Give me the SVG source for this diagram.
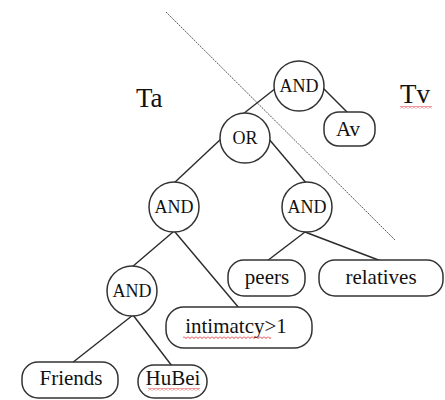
<svg xmlns="http://www.w3.org/2000/svg" width="445" height="400" viewBox="0 0 445 400">
<defs>
<style>
.edge{stroke:#2a2a2a;stroke-width:1.4;fill:none}
.sep{stroke:#555;stroke-width:1;stroke-dasharray:2 1;fill:none}
.op{fill:#fff;stroke:#333;stroke-width:1.5}
.leaf{fill:#fff;stroke:#333;stroke-width:1.5}
text{font-family:"Liberation Serif","Times New Roman",serif;fill:#111;text-anchor:middle}
.opt{font-size:18px}
.lt{font-size:21px}
.big{font-size:27px;text-anchor:start}
</style>
<pattern id="wave" width="4" height="3" patternUnits="userSpaceOnUse">
<path d="M0 0.5 L2 2.5 L4 0.5" stroke="#e02020" stroke-width="0.9" fill="none"/>
</pattern>
</defs>
<rect width="445" height="400" fill="#fff"/>
<line class="sep" x1="166" y1="12" x2="395" y2="240"/>
<g id="connectors">
<line class="edge" x1="276" y1="88" x2="243" y2="114"/>
<line class="edge" x1="323" y1="88" x2="348" y2="113"/>
<line class="edge" x1="222" y1="138" x2="173" y2="184"/>
<line class="edge" x1="268" y1="138" x2="307" y2="184"/>
<line class="edge" x1="305" y1="232" x2="267" y2="261"/>
<line class="edge" x1="305" y1="232" x2="381" y2="261"/>
<line class="edge" x1="173" y1="232" x2="132" y2="267"/>
<line class="edge" x1="175" y1="232" x2="239" y2="308"/>
<line class="edge" x1="133" y1="315" x2="72" y2="363"/>
<line class="edge" x1="133" y1="315" x2="172" y2="366"/>
</g>
<g id="label-ta"><text class="big" x="136" y="107">Ta</text></g>
<g id="label-tv"><text class="big" x="400" y="103">Tv</text><rect x="400" y="106" width="32" height="3" fill="url(#wave)"/></g>
<g id="and-root"><circle class="op" cx="299" cy="86" r="25"/><text class="opt" x="299" y="92">AND</text></g>
<g id="av"><rect class="leaf" x="324" y="112" width="51" height="34" rx="15"/><text class="lt" x="348" y="136">Av</text></g>
<g id="or"><circle class="op" cx="245" cy="138" r="25"/><text class="opt" x="245" y="144">OR</text></g>
<g id="and-left"><circle class="op" cx="174" cy="207" r="25"/><text class="opt" x="174" y="213">AND</text></g>
<g id="and-right"><circle class="op" cx="307" cy="207" r="25"/><text class="opt" x="307" y="213">AND</text></g>
<g id="peers"><rect class="leaf" x="228" y="260" width="77" height="36" rx="16"/><text class="lt" x="267" y="284">peers</text></g>
<g id="relatives"><rect class="leaf" x="319" y="260" width="124" height="36" rx="16"/><text class="lt" x="381" y="284">relatives</text></g>
<g id="and-bottom"><circle class="op" cx="132" cy="291" r="25"/><text class="opt" x="132" y="297">AND</text></g>
<g id="intimatcy"><rect class="leaf" x="166" y="307" width="146" height="41" rx="18"/><text class="lt" x="236" y="333">intimatcy&gt;1</text><rect x="183" y="336" width="88" height="3" fill="url(#wave)"/></g>
<g id="friends"><rect class="leaf" x="22" y="362" width="96" height="36" rx="16"/><text class="lt" x="71" y="385">Friends</text></g>
<g id="hubei"><rect class="leaf" x="138" y="365" width="69" height="33" rx="16"/><text class="lt" x="173" y="385">HuBei</text><rect x="148" y="388" width="52" height="3" fill="url(#wave)"/></g>
</svg>
